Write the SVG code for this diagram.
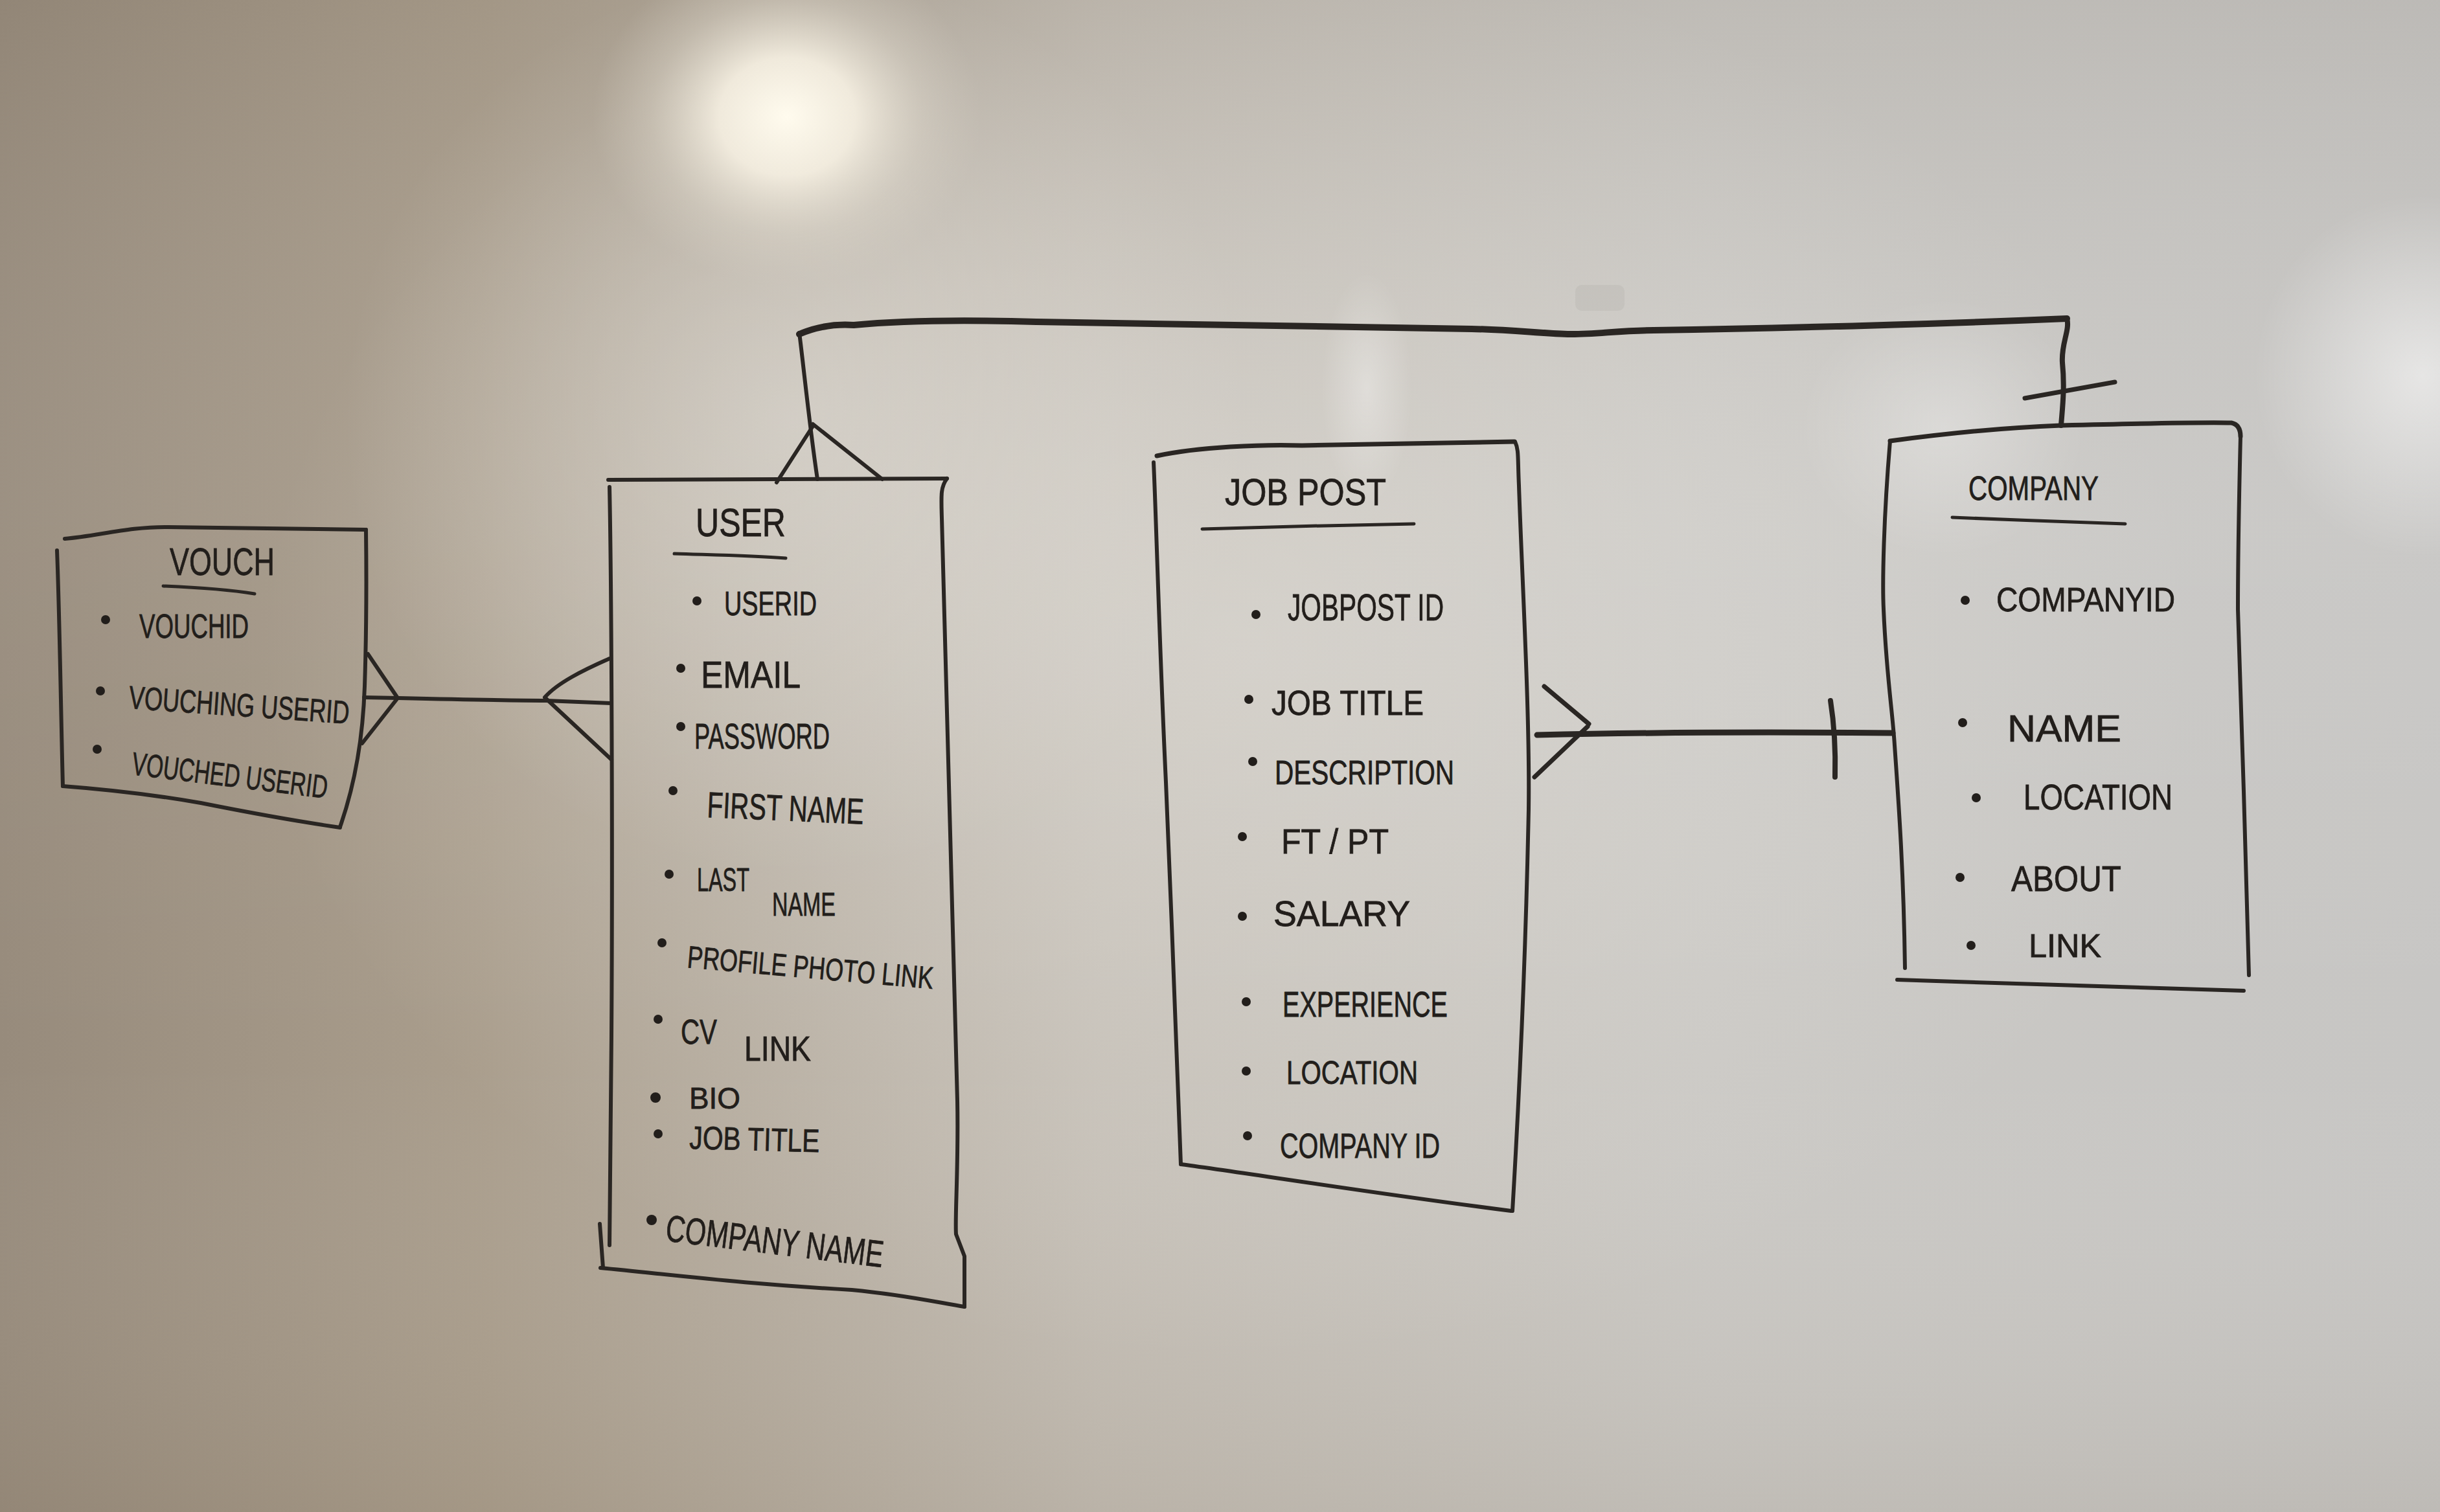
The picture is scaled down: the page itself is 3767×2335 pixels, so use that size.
<svg xmlns="http://www.w3.org/2000/svg" width="3767" height="2335" viewBox="0 0 3767 2335">
<defs>
<linearGradient id="bgH" x1="0" y1="0" x2="1" y2="0">
<stop offset="0" stop-color="#978b7c"/>
<stop offset="0.2" stop-color="#aa9e8d"/>
<stop offset="0.45" stop-color="#c3bdb4"/>
<stop offset="0.7" stop-color="#cac8c4"/>
<stop offset="1" stop-color="#c7c6c4"/>
</linearGradient>
<linearGradient id="bgV" x1="0" y1="0" x2="0" y2="1">
<stop offset="0" stop-color="#6e6252" stop-opacity="0.12"/>
<stop offset="0.35" stop-color="#ffffff" stop-opacity="0.05"/>
<stop offset="0.7" stop-color="#ffffff" stop-opacity="0"/>
<stop offset="1" stop-color="#7a6850" stop-opacity="0.12"/>
</linearGradient>
<radialGradient id="glare" cx="0.5" cy="0.5" r="0.5">
<stop offset="0" stop-color="#fffbee" stop-opacity="1"/>
<stop offset="0.35" stop-color="#f6f0e2" stop-opacity="0.9"/>
<stop offset="0.7" stop-color="#e2dccf" stop-opacity="0.35"/>
<stop offset="1" stop-color="#d8d2c6" stop-opacity="0"/>
</radialGradient>
<radialGradient id="soft" cx="0.5" cy="0.5" r="0.5">
<stop offset="0" stop-color="#ffffff" stop-opacity="0.55"/>
<stop offset="1" stop-color="#ffffff" stop-opacity="0"/>
</radialGradient>
<radialGradient id="glow" cx="0.5" cy="0.5" r="0.5">
<stop offset="0" stop-color="#e6e4df" stop-opacity="0.45"/>
<stop offset="1" stop-color="#e6e4df" stop-opacity="0"/>
</radialGradient>
<style>
.ink{fill:none;stroke:#2a2623;stroke-linecap:round;stroke-linejoin:round}
.b{stroke-width:6}
.bt{stroke-width:8}
.u{stroke-width:5}
.t{font-family:"Liberation Sans",Arial,sans-serif;fill:#221e1b;stroke:#221e1b;stroke-width:0.8}
.dot{fill:#221e1b}
</style>
</defs>
<rect x="0" y="0" width="3767" height="2335" fill="url(#bgH)"/>
<rect x="0" y="0" width="3767" height="2335" fill="url(#bgV)"/>
<ellipse cx="1900" cy="1000" rx="1500" ry="1100" fill="url(#glow)"/>
<ellipse cx="1230" cy="650" rx="700" ry="700" fill="url(#glow)"/>
<ellipse cx="1215" cy="180" rx="300" ry="260" fill="url(#glare)"/>
<ellipse cx="3740" cy="580" rx="260" ry="280" fill="url(#soft)"/>
<ellipse cx="3000" cy="660" rx="220" ry="200" fill="url(#soft)" opacity="0.5"/>
<ellipse cx="2110" cy="600" rx="70" ry="180" fill="url(#soft)" opacity="0.6"/>
<rect x="2432" y="440" width="76" height="40" rx="10" fill="#8e8a85" opacity="0.12"/>

<g id="connectors">
<path class="ink b" d="M562,1077 L615,1078 C700,1080 800,1082 843,1082 L944,1086"/>
<path class="ink b" d="M568,1010 L614,1078 L559,1148"/>
<path class="ink b" d="M941,1017 C900,1035 860,1055 841,1077 L944,1173"/>
<path class="ink" stroke-width="10" d="M1234,516 C1260,505 1290,500 1318,502 C1400,494 1500,494 1600,497 C1800,502 2000,505 2272,508 C2330,509 2370,514 2420,516 C2460,517 2500,510 2553,510 C2800,506 3000,500 3191,492"/>
<path class="ink b" d="M1234,514 C1240,560 1250,660 1262,740"/>
<path class="ink b" d="M1255,658 L1199,745"/>
<path class="ink b" d="M1255,655 L1362,740"/>
<path class="ink bt" d="M3191,492 C3196,510 3182,530 3184,560 C3188,600 3184,630 3182,657"/>
<path class="ink" stroke-width="7" d="M3126,615 L3265,590"/>
<path class="ink" stroke-width="9" d="M2373,1135 C2500,1132 2700,1130 2922,1132"/>
<path class="ink" stroke-width="7" d="M2384,1060 L2453,1118"/>
<path class="ink" stroke-width="7" d="M2369,1200 L2451,1122"/>
<path class="ink bt" d="M2826,1082 C2832,1120 2834,1160 2833,1200"/>
</g>

<g id="vouch">
<path class="ink b" d="M100,832 C150,828 200,813 260,814 C360,816 480,816 565,818"/>
<path class="ink b" d="M565,818 C566,900 565,1000 563,1060 C560,1150 545,1220 525,1277"/>
<path class="ink b" d="M97,1214 C150,1218 230,1226 310,1240 C400,1258 470,1270 525,1278"/>
<path class="ink b" d="M88,850 C92,950 94,1100 97,1214"/>
<text class="t" x="262" y="888" font-size="60" textLength="162" lengthAdjust="spacingAndGlyphs">VOUCH</text>
<path class="ink u" d="M252,905 C300,907 350,910 393,917"/>
<circle class="dot" cx="163" cy="957" r="7"/>
<text class="t" x="215" y="985" font-size="52" textLength="169" lengthAdjust="spacingAndGlyphs">VOUCHID</text>
<circle class="dot" cx="155" cy="1067" r="7"/>
<text class="t" x="198" y="1094" font-size="50" textLength="341" lengthAdjust="spacingAndGlyphs" transform="rotate(4 198 1094)">VOUCHING USERID</text>
<circle class="dot" cx="150" cy="1157" r="7"/>
<text class="t" x="202" y="1196" font-size="50" textLength="304" lengthAdjust="spacingAndGlyphs" transform="rotate(7 202 1196)">VOUCHED USERID</text>
</g>

<g id="user">
<path class="ink b" d="M939,741 C1100,740 1300,740 1462,739"/>
<path class="ink b" d="M1462,739 C1452,752 1453,765 1454,800 C1458,1000 1468,1300 1478,1700 C1480,1800 1474,1880 1476,1906 L1489,1940 L1489,2018"/>
<path class="ink b" d="M941,752 C944,900 946,1300 944,1600 C943,1750 941,1850 941,1923"/>
<path class="ink b" d="M926,1890 L931,1958"/>
<path class="ink b" d="M927,1958 C1050,1970 1150,1983 1315,1992 C1400,2000 1450,2012 1489,2018"/>
<text class="t" x="1074" y="828" font-size="62" textLength="139" lengthAdjust="spacingAndGlyphs">USER</text>
<path class="ink u" d="M1041,855 C1100,857 1160,858 1213,862"/>
<circle class="dot" cx="1076" cy="928" r="7"/>
<text class="t" x="1118" y="950" font-size="52" textLength="143" lengthAdjust="spacingAndGlyphs">USERID</text>
<circle class="dot" cx="1051" cy="1032" r="7"/>
<text class="t" x="1082" y="1062" font-size="58" textLength="154" lengthAdjust="spacingAndGlyphs">EMAIL</text>
<circle class="dot" cx="1051" cy="1122" r="7"/>
<text class="t" x="1072" y="1156" font-size="56" textLength="209" lengthAdjust="spacingAndGlyphs">PASSWORD</text>
<circle class="dot" cx="1039" cy="1221" r="7"/>
<text class="t" x="1091" y="1262" font-size="56" textLength="242" lengthAdjust="spacingAndGlyphs" transform="rotate(2.5 1091 1262)">FIRST NAME</text>
<circle class="dot" cx="1033" cy="1350" r="7"/>
<text class="t" font-size="50"><tspan x="1076" y="1376" textLength="81" lengthAdjust="spacingAndGlyphs">LAST</tspan><tspan x="1192" y="1414" textLength="98" lengthAdjust="spacingAndGlyphs">NAME</tspan></text>
<circle class="dot" cx="1022" cy="1456" r="7"/>
<text class="t" x="1060" y="1494" font-size="48" textLength="381" lengthAdjust="spacingAndGlyphs" transform="rotate(5 1060 1494)">PROFILE PHOTO LINK</text>
<circle class="dot" cx="1016" cy="1574" r="7"/>
<text class="t" font-size="54"><tspan x="1051" y="1612" textLength="56" lengthAdjust="spacingAndGlyphs">CV</tspan><tspan x="1149" y="1638" textLength="103" lengthAdjust="spacingAndGlyphs">LINK</tspan></text>
<circle class="dot" cx="1012" cy="1695" r="8"/>
<text class="t" x="1064" y="1712" font-size="46" textLength="79" lengthAdjust="spacingAndGlyphs">BIO</text>
<circle class="dot" cx="1016" cy="1751" r="7"/>
<text class="t" x="1064" y="1774" font-size="50" textLength="201" lengthAdjust="spacingAndGlyphs" transform="rotate(1.5 1064 1774)">JOB TITLE</text>
<circle class="dot" cx="1006" cy="1884" r="8"/>
<text class="t" x="1026" y="1916" font-size="58" textLength="338" lengthAdjust="spacingAndGlyphs" transform="rotate(7 1026 1916)">COMPANY NAME</text>
</g>

<g id="jobpost">
<path class="ink" stroke-width="7" d="M1786,704 C1850,690 1950,686 2010,688 C2150,686 2250,684 2338,682"/>
<path class="ink b" d="M1781,714 C1785,800 1790,1000 1800,1208 C1808,1400 1818,1650 1823,1798"/>
<path class="ink b" d="M1823,1798 C1950,1815 2100,1840 2333,1870"/>
<path class="ink b" d="M2339,682 C2345,695 2343,706 2345,750 C2350,900 2362,1100 2360,1250 C2356,1450 2348,1650 2335,1870"/>
<text class="t" x="1891" y="780" font-size="58" textLength="249" lengthAdjust="spacingAndGlyphs">JOB POST</text>
<path class="ink u" d="M1856,817 C1950,814 2100,810 2183,809"/>
<circle class="dot" cx="1939" cy="949" r="7"/>
<text class="t" x="1988" y="958" font-size="58" textLength="241" lengthAdjust="spacingAndGlyphs">JOBPOST ID</text>
<circle class="dot" cx="1928" cy="1080" r="7"/>
<text class="t" x="1963" y="1104" font-size="54" textLength="235" lengthAdjust="spacingAndGlyphs">JOB TITLE</text>
<circle class="dot" cx="1934" cy="1176" r="7"/>
<text class="t" x="1968" y="1211" font-size="52" textLength="277" lengthAdjust="spacingAndGlyphs">DESCRIPTION</text>
<circle class="dot" cx="1918" cy="1292" r="7"/>
<text class="t" x="1978" y="1318" font-size="54" textLength="166" lengthAdjust="spacingAndGlyphs">FT / PT</text>
<circle class="dot" cx="1918" cy="1415" r="7"/>
<text class="t" x="1966" y="1430" font-size="56" textLength="211" lengthAdjust="spacingAndGlyphs">SALARY</text>
<circle class="dot" cx="1924" cy="1547" r="7"/>
<text class="t" x="1980" y="1570" font-size="56" textLength="255" lengthAdjust="spacingAndGlyphs">EXPERIENCE</text>
<circle class="dot" cx="1924" cy="1654" r="7"/>
<text class="t" x="1986" y="1674" font-size="50" textLength="203" lengthAdjust="spacingAndGlyphs">LOCATION</text>
<circle class="dot" cx="1926" cy="1754" r="7"/>
<text class="t" x="1976" y="1788" font-size="54" textLength="247" lengthAdjust="spacingAndGlyphs">COMPANY ID</text>
</g>

<g id="company">
<path class="ink" stroke-width="7" d="M2918,681 C3000,670 3100,660 3182,657 C3300,654 3400,652 3445,653 Q3459,656 3459,674"/>
<path class="ink b" d="M2918,681 C2908,800 2906,900 2908,941 C2912,1040 2922,1100 2925,1151 C2932,1250 2939,1350 2941,1495"/>
<path class="ink b" d="M3459,674 C3456,800 3455,900 3455,941 C3458,1050 3462,1150 3464,1222 C3467,1350 3470,1450 3472,1506"/>
<path class="ink b" d="M2929,1513 C3100,1518 3300,1526 3464,1530"/>
<text class="t" x="3039" y="772" font-size="52" textLength="201" lengthAdjust="spacingAndGlyphs">COMPANY</text>
<path class="ink u" d="M3014,799 C3100,803 3200,806 3281,809"/>
<circle class="dot" cx="3034" cy="927" r="7"/>
<text class="t" x="3082" y="944" font-size="52" textLength="276" lengthAdjust="spacingAndGlyphs">COMPANYID</text>
<circle class="dot" cx="3030" cy="1116" r="7"/>
<text class="t" x="3099" y="1145" font-size="58" textLength="176" lengthAdjust="spacingAndGlyphs">NAME</text>
<circle class="dot" cx="3051" cy="1232" r="7"/>
<text class="t" x="3124" y="1250" font-size="56" textLength="230" lengthAdjust="spacingAndGlyphs">LOCATION</text>
<circle class="dot" cx="3026" cy="1355" r="7"/>
<text class="t" x="3105" y="1376" font-size="56" textLength="170" lengthAdjust="spacingAndGlyphs">ABOUT</text>
<circle class="dot" cx="3043" cy="1460" r="7"/>
<text class="t" x="3132" y="1478" font-size="50" textLength="112" lengthAdjust="spacingAndGlyphs">LINK</text>
</g>
</svg>
